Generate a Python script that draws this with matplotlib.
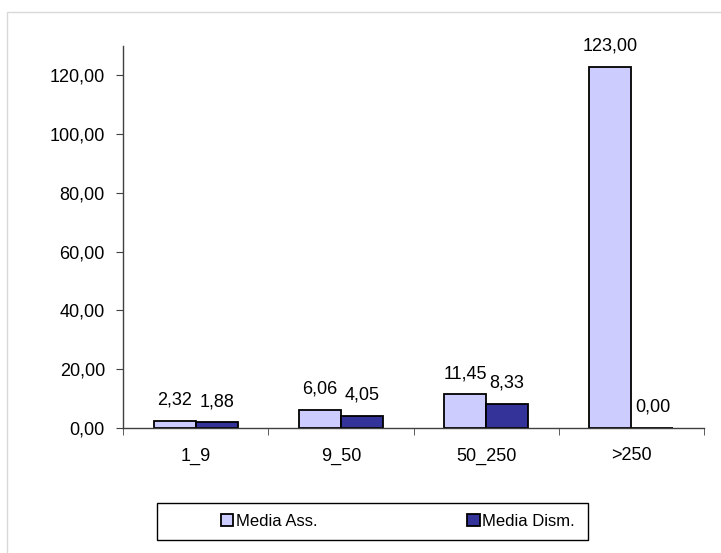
import matplotlib
matplotlib.use("Agg")
import matplotlib.pyplot as plt
from matplotlib.patches import Patch, Rectangle
import numpy as np

plt.rcParams["font.family"] = ["Liberation Sans", "DejaVu Sans"]

# Class sizes and the two averages per class
categories = ["1_9", "9_50", "50_250", ">250"]
media_ass = [2.32, 6.06, 11.45, 123.00]
media_dism = [1.88, 4.05, 8.33, 0.00]
y_ticks = [0, 20, 40, 60, 80, 100, 120]

COL_ASS = "#CCCCFF"
COL_DISM = "#333399"
AXIS_COL = "#404040"
FS = 13
LEG_FS = 12


def fmt(v):
    return ("%.2f" % v).replace(".", ",")


fig = plt.figure(figsize=(7.21, 5.53), dpi=100)
ax = fig.add_axes([123 / 721, 125 / 553, 581 / 721, 382 / 553])

x = np.arange(len(categories))
w = 0.29
bars_a = ax.bar(x - w / 2, media_ass, w, color=COL_ASS, edgecolor="black", linewidth=1.3)
bars_d = ax.bar(x + w / 2, media_dism, w, color=COL_DISM, edgecolor="black", linewidth=1.3)

for bars, vals in ((bars_a, media_ass), (bars_d, media_dism)):
    for b, v in zip(bars, vals):
        ax.annotate(fmt(v), (b.get_x() + b.get_width() / 2, v),
                    xytext=(0, 15), textcoords="offset points",
                    ha="center", va="center", fontsize=FS)

ax.set_xlim(-0.5, len(categories) - 0.5)
ax.set_ylim(0, 130)
ax.set_yticks(y_ticks)
ax.set_yticklabels([fmt(t) for t in y_ticks], fontsize=FS)
ax.set_xticks(x)
ax.set_xticklabels(categories, fontsize=FS)
ax.set_xticks(np.arange(len(categories) + 1) - 0.5, minor=True)
ax.tick_params(axis="x", which="major", length=0, pad=14)
ax.tick_params(axis="x", which="minor", length=5, color=AXIS_COL, direction="out")
ax.tick_params(axis="y", length=5, color=AXIS_COL, direction="out", pad=8)

for side in ("top", "right"):
    ax.spines[side].set_visible(False)
for side in ("left", "bottom"):
    ax.spines[side].set_color(AXIS_COL)
    ax.spines[side].set_linewidth(1.0)

# legend box
fig.patches.append(Rectangle((157 / 721, 13 / 553), 431 / 721, 37 / 553,
                             transform=fig.transFigure, fill=False,
                             edgecolor="black", linewidth=1.0))
handles = [Patch(facecolor=COL_ASS, edgecolor="black", linewidth=1.3, label="Media Ass."),
           Patch(facecolor=COL_DISM, edgecolor="black", linewidth=1.3, label="Media Dism.")]
fig.legend(handles=handles, ncol=2, frameon=False, fontsize=LEG_FS,
           loc="center", bbox_to_anchor=(398 / 721, 32 / 553),
           handlelength=0.75, handleheight=0.75, handletextpad=0.15,
           columnspacing=9.0, borderpad=0)

# outer chart frame
fig.patches.append(Rectangle((7 / 721, -0.01), 720 / 721, 547 / 553,
                             transform=fig.transFigure, fill=False,
                             edgecolor="#d8d8d8", linewidth=1.0))

fig.savefig("out.png", dpi=100)
